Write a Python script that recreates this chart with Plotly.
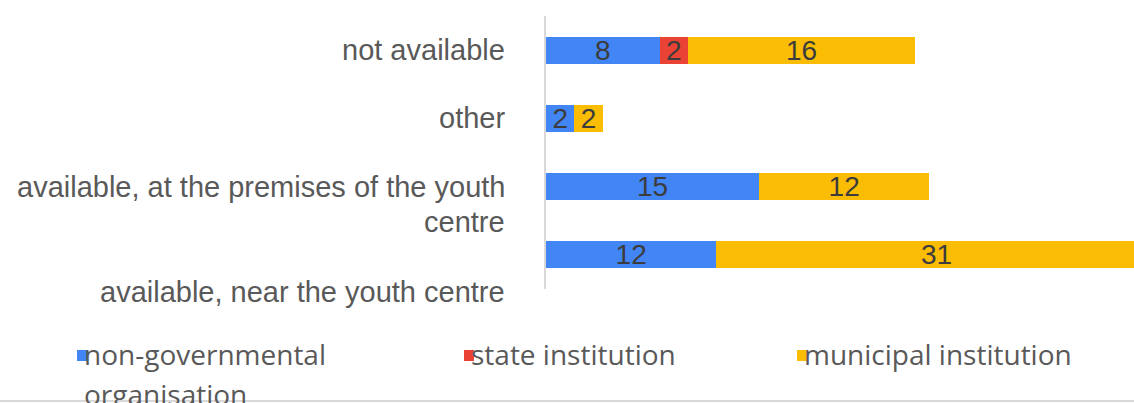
import plotly.graph_objects as go

# Categories listed top to bottom
categories = [
    "not available",
    "other",
    "available, at the premises of the youth centre",
    "available, near the youth centre",
]
series_names = ["non-governmental organisation", "state institution", "municipal institution"]
ngo_values = [8, 2, 15, 12]
state_values = [2, None, None, None]
municipal_values = [16, 2, 12, 31]
series_values = [ngo_values, state_values, municipal_values]
series_colors = ["#4285F4", "#EA4335", "#FBBC04"]

W, H = 1134, 403
ML, MR, MT, MB = 546, 0, 16, 114
PW, PH = W - ML - MR, H - MT - MB

def px_x(p):
    return (p - ML) / PW

def px_y(p):
    return (H - MB - p) / PH

fig = go.Figure()
for name, vals, col in zip(series_names, series_values, series_colors):
    fig.add_trace(go.Bar(
        y=categories, x=vals, name=name, orientation="h",
        marker=dict(color=col, line=dict(width=0)),
        text=[("" if v is None else str(v)) for v in vals],
        textposition="inside", insidetextanchor="middle", textangle=0,
        textfont=dict(family="Liberation Sans, Arial", size=28, color="#3c3c3c"),
        showlegend=False,
    ))

label_font = dict(family="Liberation Sans, Arial", size=29, color="#595959")
# category labels on the left of the axis
cat_labels = [
    (categories[0], "not available", 0),
    (categories[1], "other", 0),
    (categories[2], "available, at the premises of the youth", 0),
    (categories[2], "centre", -35),
    (categories[3], "available, near the youth centre", -37),
]
annotations = []
for cat, txt, shift in cat_labels:
    annotations.append(dict(
        xref="paper", x=px_x(507), xanchor="right",
        yref="y", y=cat, yanchor="middle", yshift=shift,
        text=txt, showarrow=False, font=label_font,
    ))

# legend drawn as squares and text
legend_font = dict(family="Open Sans", size=28, color="#595959")
legend_items = [
    (77, ["non-governmental", "organisation"]),
    (464, ["state institution"]),
    (797, ["municipal institution"]),
]
shapes = []
for (x0, lines), col in zip(legend_items, series_colors):
    shapes.append(dict(
        type="rect", xref="paper", yref="paper",
        x0=px_x(x0), x1=px_x(x0 + 10), y0=px_y(361), y1=px_y(350),
        fillcolor=col, line=dict(width=0), layer="below",
    ))
    for i, line in enumerate(lines):
        annotations.append(dict(
            xref="paper", x=px_x(x0 + 5), xanchor="left",
            yref="paper", y=px_y(354 + 40 * i), yanchor="middle",
            text=line, showarrow=False, font=legend_font,
        ))

shapes.append(dict(
    type="line", xref="paper", yref="paper",
    x0=px_x(0), x1=px_x(W), y0=px_y(401), y1=px_y(401),
    line=dict(color="#d9d9d9", width=2),
))

fig.update_layout(
    width=W, height=H,
    margin=dict(l=ML, r=MR, t=MT, b=MB, pad=0),
    barmode="stack", bargap=0.604,
    plot_bgcolor="white", paper_bgcolor="white",
    uniformtext=dict(minsize=28, mode="show"),
    xaxis=dict(range=[0, PW / 14.2], showgrid=False, zeroline=False,
               showticklabels=False, ticks="", showline=False),
    yaxis=dict(type="category", categoryorder="array", categoryarray=categories,
               autorange="reversed", showticklabels=False, ticks="",
               showgrid=False, zeroline=False,
               showline=True, linecolor="#d9d9d9", linewidth=2),
    annotations=annotations, shapes=shapes,
)

fig.write_html("out.html")
